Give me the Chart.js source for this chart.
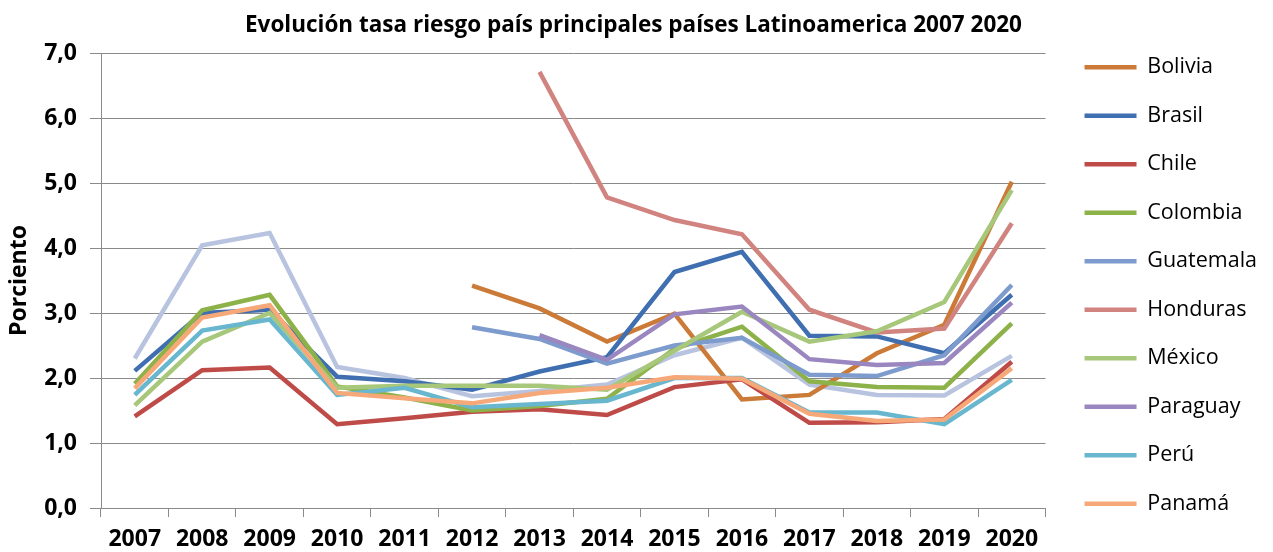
<!DOCTYPE html>
<html>
<head>
<meta charset="utf-8">
<script src="https://cdn.jsdelivr.net/npm/chart.js@4"></script>
<style>
  html, body { margin: 0; padding: 0; background: #fff; }
  #wrap { width: 1273px; height: 552px; }
</style>
</head>
<body>
<div id="wrap"><canvas id="riesgoChart" width="1273" height="552"></canvas></div>
<script>
const years = ['2007', '2008', '2009', '2010', '2011', '2012', '2013', '2014', '2015', '2016', '2017', '2018', '2019', '2020'];

// riesgo país, en porciento
const bolivia   = [null, null, null, null, null, 3.42, 3.07, 2.56, 2.99, 1.67, 1.74, 2.38, 2.82, 5.02];
const brasil    = [2.11, 3.00, 3.05, 2.02, 1.95, 1.82, 2.10, 2.32, 3.63, 3.94, 2.65, 2.64, 2.38, 3.28];
const chile     = [1.41, 2.12, 2.16, 1.29, 1.38, 1.48, 1.52, 1.43, 1.86, 1.98, 1.31, 1.32, 1.37, 2.25];
const colombia  = [1.91, 3.04, 3.28, 1.87, 1.70, 1.50, 1.57, 1.68, 2.45, 2.79, 1.95, 1.86, 1.85, 2.84];
const guatemala = [null, null, null, null, null, 2.78, 2.60, 2.22, 2.50, 2.62, 2.05, 2.03, 2.35, 3.43];
const honduras  = [null, null, null, null, null, null, 6.71, 4.78, 4.43, 4.21, 3.05, 2.70, 2.76, 4.38];
const mexico    = [1.58, 2.56, 3.00, 1.85, 1.88, 1.88, 1.88, 1.82, 2.42, 3.02, 2.56, 2.72, 3.17, 4.89];
const paraguay  = [null, null, null, null, null, null, 2.66, 2.28, 2.98, 3.10, 2.29, 2.20, 2.23, 3.16];
const peru      = [1.74, 2.73, 2.90, 1.74, 1.85, 1.55, 1.60, 1.65, 2.00, 2.00, 1.47, 1.47, 1.29, 1.97];
const panama    = [1.84, 2.93, 3.12, 1.77, 1.69, 1.61, 1.77, 1.85, 2.01, 1.99, 1.45, 1.34, 1.36, 2.15];
const uruguay   = [2.30, 4.04, 4.23, 2.17, 2.00, 1.72, 1.80, 1.90, 2.35, 2.62, 1.90, 1.74, 1.73, 2.34];

const yTicks = [0, 1, 2, 3, 4, 5, 6, 7];

const FONT = "'Open Sans', 'DejaVu Sans', sans-serif";
const GRID = '#8a8a8a';

// [label, data, color]; the last one has no legend entry
const series = [
    ['Bolivia', bolivia, '#CB7A37'],
    ['Brasil', brasil, '#3F6FB0'],
    ['Chile', chile, '#BE4B48'],
    ['Colombia', colombia, '#8DB249'],
    ['Guatemala', guatemala, '#7D9BCD'],
    ['Honduras', honduras, '#D1847F'],
    ['México', mexico, '#A7C77B'],
    ['Paraguay', paraguay, '#9A87BF'],
    ['Perú', peru, '#69B7CF'],
    ['Panamá', panama, '#F6A878'],
    ['Uruguay', uruguay, '#B8C4DF'],
];

const datasets = series.map(([label, data, color], i) => ({
    label,
    data,
    borderColor: color,
    backgroundColor: color,
    borderWidth: 4.5,
    pointRadius: 0,
    tension: 0,
    spanGaps: false,
    yAxisID: 'y',
    // later series are painted over earlier ones
    order: label === 'Uruguay' ? 1 : -i,
}));

new Chart(document.getElementById('riesgoChart'), {
    type: 'line',
    data: { labels: years, datasets },
    options: {
        responsive: false,
        animation: false,
        layout: { padding: { left: 0, right: 6, top: 0, bottom: 0 } },
        plugins: {
            title: {
                display: true,
                text: 'Evolución tasa riesgo país principales países Latinoamerica 2007 2020',
                color: '#000',
                font: { family: FONT, size: 22.5, weight: 'bold' },
                padding: { top: 12, bottom: 14 },
            },
            legend: {
                position: 'right',
                align: 'center',
                // empty title only pushes the entries down a little
                title: { display: true, text: '', font: { size: 10 }, padding: { top: 7, bottom: 0 } },
                labels: {
                    color: '#000',
                    font: { family: FONT, size: 21.5 },
                    usePointStyle: true,
                    pointStyle: 'line',
                    pointStyleWidth: 52,
                    padding: 27,
                    filter: (item) => item.text !== 'Uruguay',
                    sort: (a, b) => a.datasetIndex - b.datasetIndex,
                },
            },
            tooltip: { enabled: false },
        },
        scales: {
            x: {
                offset: true,
                afterFit: (scale) => { scale.height = 44; },
                grid: {
                    offset: true,
                    drawOnChartArea: false,
                    drawTicks: true,
                    tickLength: 9,
                    color: GRID,
                },
                border: { color: GRID, width: 1 },
                ticks: {
                    color: '#000',
                    font: { family: FONT, size: 23, weight: 'bold' },
                    padding: 9,
                    maxRotation: 0,
                },
            },
            y: {
                min: 0,
                max: 7,
                afterFit: (scale) => { scale.width = 101; },
                afterBuildTicks: (scale) => { scale.ticks = yTicks.map(v => ({ value: v })); },
                grid: { color: GRID, tickLength: 11 },
                border: { color: GRID, width: 1 },
                ticks: {
                    color: '#000',
                    font: { family: FONT, size: 23, weight: 'bold' },
                    padding: 13,
                    callback: (v) => v.toFixed(1).replace('.', ','),
                },
                title: {
                    display: true,
                    text: 'Porciento',
                    color: '#000',
                    font: { family: FONT, size: 23, weight: 'bold' },
                    padding: { top: 6, bottom: 0 },
                },
            },
            // blank spacer between the plot and the legend
            yGap: {
                position: 'right',
                afterFit: (scale) => { scale.width = 12; },
                grid: { display: false, drawTicks: false },
                border: { display: false },
                ticks: { display: false },
            },
        },
    },
});
</script>
</body>
</html>
